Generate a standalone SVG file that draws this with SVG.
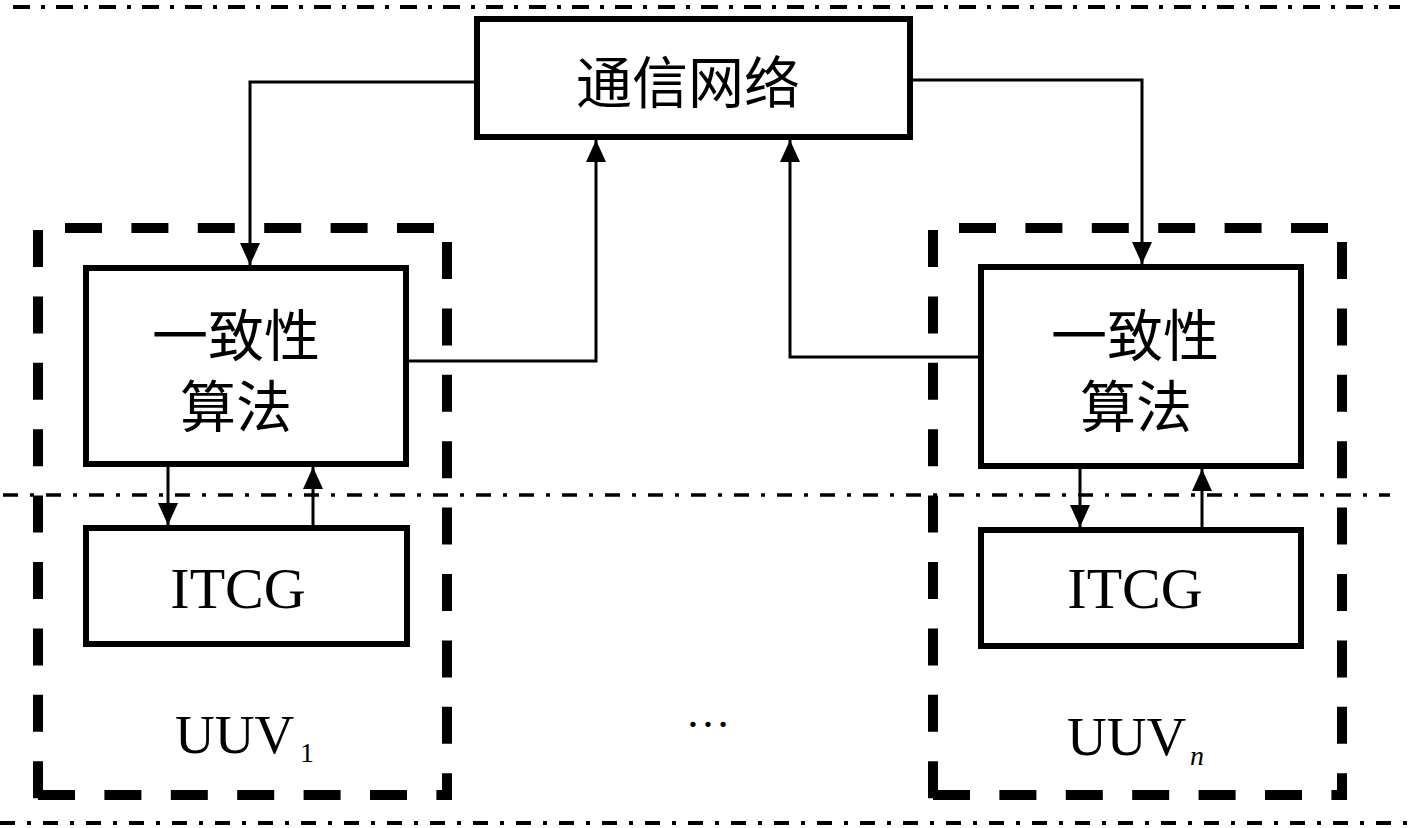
<svg xmlns="http://www.w3.org/2000/svg" width="1417" height="828" viewBox="0 0 1417 828">
<style>
.box{fill:#fff;stroke:#000;stroke-width:6}
.dash{fill:none;stroke:#000;stroke-width:10;stroke-dasharray:37 29.4}
.dd{fill:none;stroke:#000}
.con{fill:none;stroke:#000;stroke-width:3}
.cn{font-family:"Liberation Serif","Noto Sans CJK SC",sans-serif;font-size:56px;fill:#000;text-anchor:middle}
.lt{font-family:"Liberation Serif",serif;fill:#000}
</style>
<defs>
<marker id="arr" markerUnits="userSpaceOnUse" markerWidth="22" markerHeight="20" refX="22" refY="10" orient="auto">
<path d="M0,0 L22,10 L0,20 z" fill="#000"/>
</marker>
</defs>
<rect width="1417" height="828" fill="#fff"/>
<g id="dashdot-lines">
<line class="dd" x1="13" y1="7" x2="1400" y2="7" stroke-width="4" stroke-dasharray="17 11 4 11"/>
<line class="dd" x1="3" y1="495" x2="1390" y2="495" stroke-width="3.5" stroke-dasharray="15 12 4 12"/>
<line class="dd" x1="0" y1="823" x2="1417" y2="823" stroke-width="4" stroke-dasharray="15 12 4 12"/>
</g>
<g id="uuv1-frame">
<line class="dash" x1="65" y1="228" x2="434" y2="228"/>
<line class="dash" x1="38" y1="230" x2="38" y2="800"/>
<line class="dash" x1="38" y1="795" x2="452" y2="795"/>
<line class="dash" x1="447" y1="242" x2="447" y2="800"/>
<text class="lt" x="175" y="753" font-size="55">UUV</text>
<text class="lt" x="300" y="762" font-size="28">1</text>
</g>
<g id="uuvn-frame">
<line class="dash" x1="959" y1="228" x2="1328" y2="228"/>
<line class="dash" x1="933" y1="230" x2="933" y2="800"/>
<line class="dash" x1="933" y1="795" x2="1347" y2="795"/>
<line class="dash" x1="1342" y1="242" x2="1342" y2="800"/>
<text class="lt" x="1067" y="755" font-size="55">UUV</text>
<text class="lt" x="1190" y="765" font-size="28" font-style="italic">n</text>
</g>
<g id="ellipsis">
<text class="lt" x="708" y="727" font-size="45" text-anchor="middle">…</text>
</g>
<g id="connectors">
<path class="con" d="M474,82 H250 V265" marker-end="url(#arr)"/>
<path class="con" d="M913,80 H1142 V264" marker-end="url(#arr)"/>
<path class="con" d="M409,361 H596 V140" marker-end="url(#arr)"/>
<path class="con" d="M978,357 H790 V140" marker-end="url(#arr)"/>
<path class="con" d="M168,467 V525" marker-end="url(#arr)"/>
<path class="con" d="M313,525 V467" marker-end="url(#arr)"/>
<path class="con" d="M1080,469 V527" marker-end="url(#arr)"/>
<path class="con" d="M1202,527 V469" marker-end="url(#arr)"/>
</g>
<g id="network">
<rect class="box" x="477" y="19" width="433" height="118"/>
<text class="cn" x="688" y="103" font-size="57">通信网络</text>
</g>
<g id="consensus1">
<rect class="box" x="86" y="268" width="320" height="196"/>
<text class="cn" x="236" y="356">一致性</text>
<text class="cn" x="236" y="427">算法</text>
</g>
<g id="itcg1">
<rect class="box" x="86" y="528" width="321" height="116"/>
<text class="lt" x="238" y="608" font-size="58" text-anchor="middle">ITCG</text>
</g>
<g id="consensusn">
<rect class="box" x="981" y="267" width="320" height="199"/>
<text class="cn" x="1135" y="356">一致性</text>
<text class="cn" x="1136" y="427">算法</text>
</g>
<g id="itcgn">
<rect class="box" x="981" y="530" width="320" height="116"/>
<text class="lt" x="1135" y="608" font-size="58" text-anchor="middle">ITCG</text>
</g>
</svg>
